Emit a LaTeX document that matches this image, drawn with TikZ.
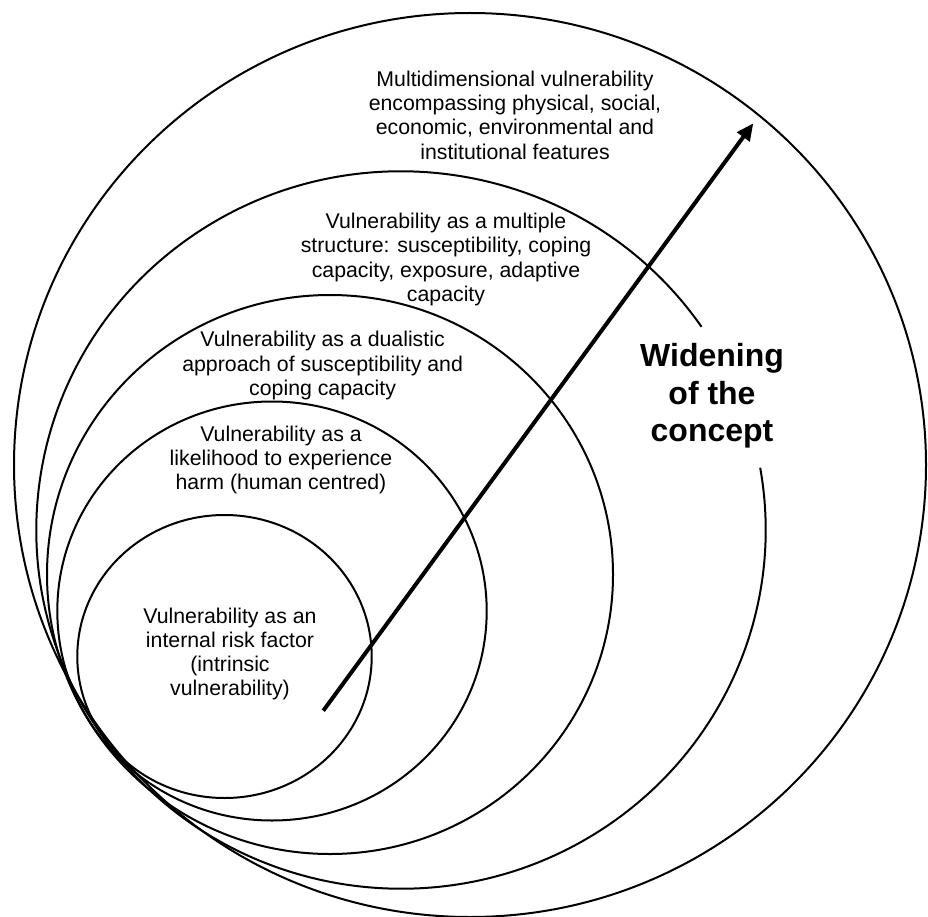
\documentclass[tikz,border=0pt]{standalone}
\usepackage{fontspec}
\setmainfont{Liberation Sans}
\usetikzlibrary{arrows.meta}
\begin{document}
\begin{tikzpicture}[x=1pt,y=1pt,
  ring/.style={line width=2pt, draw=black},
  lbl/.style={align=center, inner sep=0pt, font=\fontsize{21.3}{24.3}\selectfont},
  bigl/.style={align=center, inner sep=0pt, font=\fontsize{32}{37.5}\selectfont\bfseries},
  widen/.style={line width=4pt, -{Triangle[length=17pt,width=15pt]}}]
\useasboundingbox (0,0) rectangle (928,-917);
% centres of the rings
\coordinate (c1) at (224.5,-656.5);
\coordinate (c2) at (272,-611);
\coordinate (c3) at (330,-574.5);
\coordinate (c4) at (401,-530);
\coordinate (c5) at (470,-465);
\draw[ring] (c1) ellipse [x radius=147.2pt, y radius=141.5pt];
\draw[ring] (c2) ellipse [x radius=214.7pt, y radius=209.5pt];
\draw[ring] (c3) ellipse [x radius=283pt, y radius=279.5pt];
\draw[ring] ([shift={(34.5:364.7pt and 358.7pt)}]c4) arc [start angle=34.5, end angle=370, x radius=364.7pt, y radius=358.7pt];
\draw[ring] (c5) ellipse [x radius=456pt, y radius=452pt];
% labels
\node[lbl] (t5) at (515,-115) {Multidimensional vulnerability\\encompassing physical, social,\\economic, environmental and\\institutional features};
\node[lbl] (t4) at (446,-259.5) {Vulnerability as a multiple\\structure: susceptibility, coping\\capacity, exposure, adaptive\\capacity};
\node[lbl] (t3) at (322.6,-365.6) {Vulnerability as a dualistic\\approach of susceptibility and\\coping capacity};
\node[lbl] (t2) at (281,-460) {Vulnerability as a\\likelihood to experience\\harm (human centred)};
\node[lbl] (t1) at (230,-654) {Vulnerability as an\\internal risk factor\\(intrinsic\\vulnerability)};
\node[bigl] (wid) at (712,-396) {Widening\\of the\\concept};
% arrow
\coordinate (arrS) at (323.3,-710.7);
\coordinate (arrE) at (753.3,-123.3);
\draw[widen] (arrS) -- (arrE);
\end{tikzpicture}
\end{document}
